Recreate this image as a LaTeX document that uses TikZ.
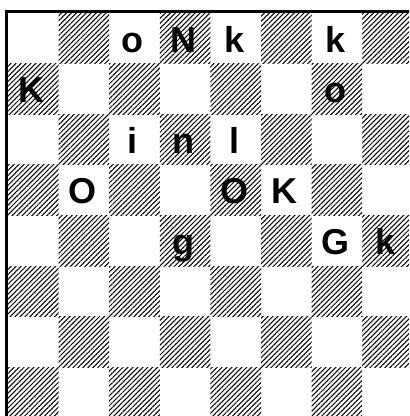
\documentclass[tikz,border=0pt]{standalone}
\usepackage{fontspec}
\setmainfont{Liberation Sans}
\usetikzlibrary{patterns.meta}

\begin{document}
\begin{tikzpicture}[
    x=50.6pt, y=50.6pt,
    dark/.style={pattern={Lines[angle=45, distance=3.5pt, line width=1pt]}},
    piece/.style={font=\bfseries\fontsize{36}{36}\selectfont, anchor=base, inner sep=0pt},
    frame/.style={line width=3pt, line join=miter}
]
    \useasboundingbox (-0.158,0.036) rectangle (7.925,8.257);
    \clip (-0.158,0.036) rectangle (7.925,8.257);
    % dark squares
    \foreach \r in {1,...,8}
      \foreach \c in {1,...,8} {
        \pgfmathtruncatemacro\odd{mod(\r+\c,2)}
        \ifnum\odd=1
          \fill[dark] (\c-1,8-\r) rectangle (\c,9-\r);
        \fi
      }
    % board edge
    \draw[frame] (-0.0296,-0.2) -- (-0.0296,8.0296) -- (8.2,8.0296);
    % pieces: row/column/text/square
    \foreach \r/\c/\t/\s in {1/3/o/c8, 1/4/N/d8, 1/5/k/e8, 1/7/k/g8,
                             2/1/K/a7, 2/7/o/g7,
                             3/3/i/c6, 3/4/n/d6, 3/5/l/e6,
                             4/2/O/b5, 4/5/O/e5, 4/6/K/f5,
                             5/4/g/d4, 5/7/G/g4, 5/8/k/h4}
      \node[piece] (\s) at (\c-0.53, 8.229-\r) {\t};
\end{tikzpicture}
\end{document}
